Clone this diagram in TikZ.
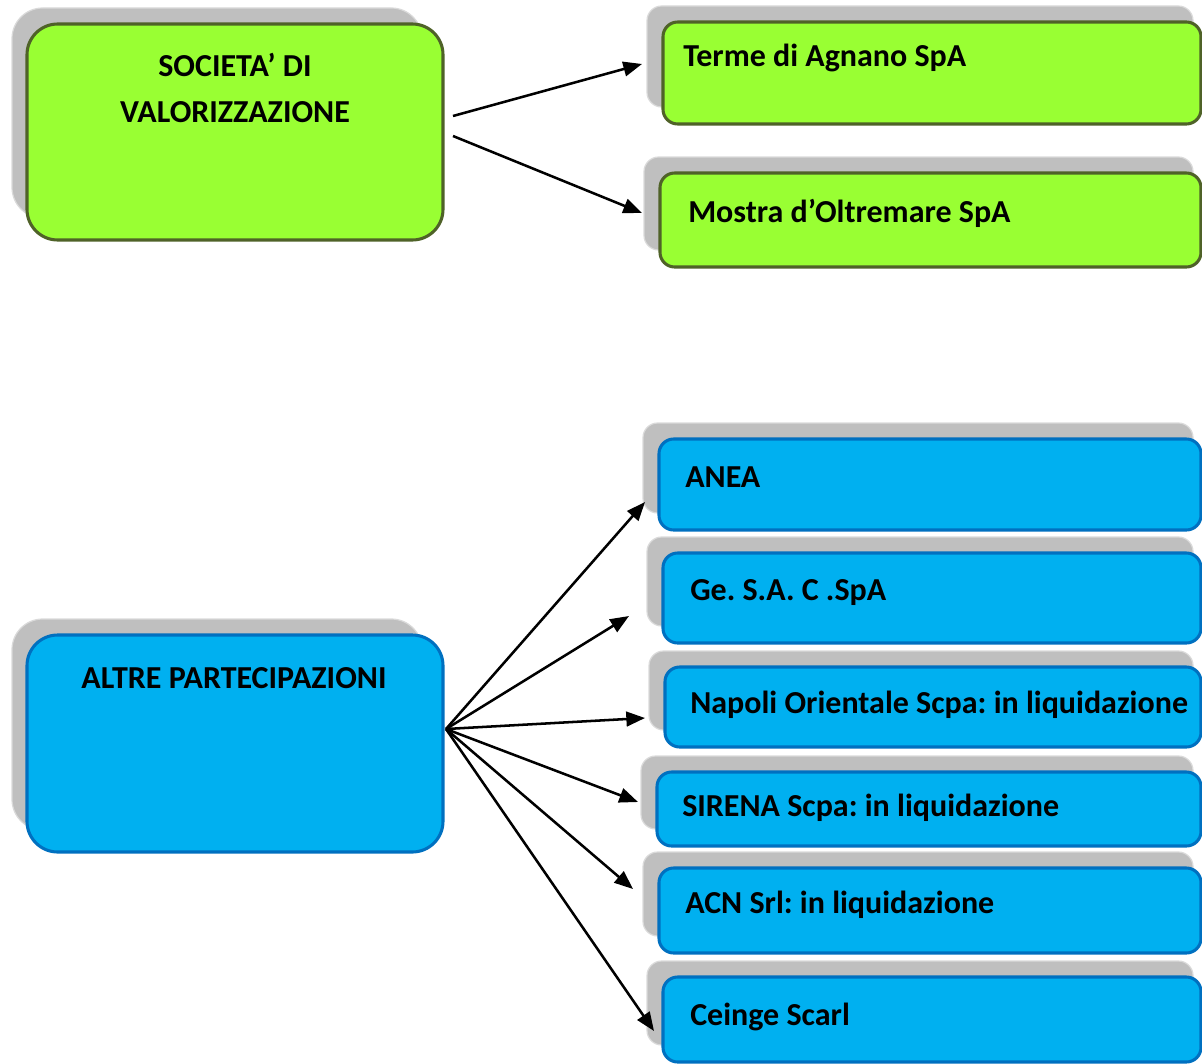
\documentclass[tikz,border=0pt]{standalone}
\usepackage{fontspec}
\setmainfont{Carlito}
\usetikzlibrary{arrows.meta,calc}
\frenchspacing
\definecolor{limefill}{HTML}{99FF33}
\definecolor{limeline}{HTML}{4F6228}
\definecolor{bluefill}{HTML}{00B0F0}
\definecolor{blueline}{HTML}{0070C0}
\definecolor{shadegray}{HTML}{BFBFBF}
\definecolor{shadeline}{HTML}{DADADA}
\tikzset{
  basebox/.style={rectangle, inner sep=0pt, outer sep=0pt},
  shade/.style={basebox, draw=shadeline, line width=0.9pt, fill=shadegray},
  greenbox/.style={basebox, draw=limeline, line width=2.3pt, fill=limefill},
  bluebox/.style={basebox, draw=blueline, line width=2.3pt, fill=bluefill},
  bigr/.style={rounded corners=23pt},
  smallr/.style={rounded corners=11pt},
  lbl/.style={font=\fontsize{24}{33}\selectfont\bfseries\frenchspacing, inner sep=0pt, anchor=base west},
  clbl/.style={font=\fontsize{24}{33}\selectfont\bfseries, inner sep=0pt, anchor=base},
  arr/.style={line width=1.9pt, -{Triangle[length=14pt,width=11pt]}}
}
% #1 name, #2 style, #3 left, #4 top, #5 bottom, #6 text x, #7 baseline, #8 text
\newcommand\mkright[8]{%
  \node[shade, smallr, minimum width={(1193-#3+16)*0.75pt}, minimum height={(#5-#4-1)*0.75pt}]
    (#1s) at ({(1193+#3-16)/2},{(#4+#5-33)/2}) {};
  \node[#2, smallr, minimum width={(1201-#3)*0.75pt}, minimum height={(#5-#4)*0.75pt}]
    (#1) at ({(1201+#3)/2},{(#4+#5)/2}) {};
  \node[lbl] (#1t) at (#6,#7) {#8};
}
\begin{document}
\begin{tikzpicture}[x=0.75pt,y=-0.75pt]
\useasboundingbox (0,0) rectangle (1202,1063);

% big left boxes
\node[shade, bigr, minimum width={410*0.75pt}, minimum height={210*0.75pt}] (socs) at (217,113) {};
\node[greenbox, bigr, minimum width={416*0.75pt}, minimum height={216*0.75pt}] (soc) at (235,132) {};
\node[clbl] (soct1) at (235,77) {SOCIETA’ DI};
\node[clbl] (soct2) at (235,122) {VALORIZZAZIONE};

\node[shade, bigr, minimum width={410*0.75pt}, minimum height={211*0.75pt}] (alts) at (217,724.5) {};
\node[bluebox, bigr, minimum width={416*0.75pt}, minimum height={217*0.75pt}] (alt) at (235,743.5) {};
\node[clbl] (altt) at (234,688) {ALTRE PARTECIPAZIONI};

% right boxes
\mkright{terme}{greenbox}{663}{22}{124}{683}{67}{Terme di Agnano SpA}
\mkright{mostra}{greenbox}{660}{173}{267}{688}{222}{Mostra d’Oltremare SpA}
\mkright{anea}{bluebox}{659}{439}{530}{685}{487}{ANEA}
\mkright{gesac}{bluebox}{663}{553}{643}{690}{600}{Ge. S.A. C .SpA}
\mkright{napoli}{bluebox}{665}{667}{747}{690}{713}{Napoli Orientale Scpa: in liquidazione}
\mkright{sirena}{bluebox}{657}{772}{846}{682}{816}{SIRENA Scpa: in liquidazione}
\mkright{acn}{bluebox}{659}{868}{953}{685}{913}{ACN Srl: in liquidazione}
\mkright{ceinge}{bluebox}{663}{977}{1062}{690}{1025}{Ceinge Scarl}

% connector end points
\coordinate (g1) at ($(soc.east)+(10,-16)$);
\coordinate (g2) at ($(soc.east)+(10,4)$);
\coordinate (gt1) at (642,64);
\coordinate (gt2) at (642,213);
\coordinate (a0) at (446,729);
\coordinate (at1) at (645,502);
\coordinate (at2) at (629,616);
\coordinate (at3) at (645,718);
\coordinate (at4) at (638,802);
\coordinate (at5) at (633,889);
\coordinate (at6) at (654,1031);

\draw[arr] (g1) -- (gt1);
\draw[arr] (g2) -- (gt2);
\foreach \t in {at1,at2,at3,at4,at5,at6} \draw[arr] (a0) -- (\t);
\end{tikzpicture}
\end{document}
